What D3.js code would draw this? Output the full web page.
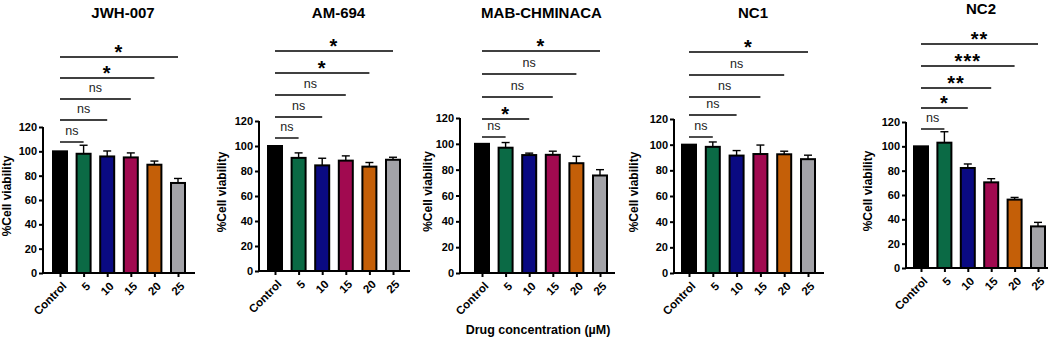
<!DOCTYPE html>
<html>
<head>
<meta charset="utf-8">
<script src="https://cdn.jsdelivr.net/npm/d3@7"></script>
<style>
  body { margin: 0; background: #fff; }
  svg { display: block; font-family: "Liberation Sans", Arial, sans-serif; }
</style>
</head>
<body>
<div id="vis"></div>
<script>
// data
const categories = ['Control', '5', '10', '15', '20', '25'];
const barColors = ['#000000', '#0b6a45', '#0a0a82', '#a10a50', '#c45f08', '#a3a3a8'];
const yTicks = [0, 20, 40, 60, 80, 100, 120];

const drugNames = ['JWH-007', 'AM-694', 'MAB-CHMINACA', 'NC1', 'NC2'];

const jwhMean = [100, 98, 95.8, 95, 89, 74];
const jwhErr  = [0, 7, 4.5, 3.7, 3, 3.7];
const jwhSig  = ['ns', 'ns', 'ns', '*', '*'];

const amMean = [100, 90.5, 84.5, 88.3, 83.5, 89];
const amErr  = [0, 4, 5.7, 3.8, 3.3, 2];
const amSig  = ['ns', 'ns', 'ns', '*', '*'];

const mabMean = [100, 97, 91.3, 91.5, 85, 75.5];
const mabErr  = [0, 4, 1.5, 2.8, 5.3, 4.5];
const mabSig  = ['ns', '*', 'ns', 'ns', '*'];

const nc1Mean = [100, 98.3, 91.5, 92.7, 92.5, 88.7];
const nc1Err  = [0, 3.8, 3.9, 7, 2.4, 3.1];
const nc1Sig  = ['ns', 'ns', 'ns', 'ns', '*'];

const nc2Mean = [100, 103, 82.2, 70.4, 56.2, 34.2];
const nc2Err  = [0, 9, 3.3, 3, 1.8, 3.3];
const nc2Sig  = ['ns', '*', '**', '***', '**'];

const means = [jwhMean, amMean, mabMean, nc1Mean, nc2Mean];
const errs = [jwhErr, amErr, mabErr, nc1Err, nc2Err];
const sigs = [jwhSig, amSig, mabSig, nc1Sig, nc2Sig];

// panel layout (pixels)
const layout = [
  {ax: 43,  x1: 60,  x2: 178,  xe: 195,  top: 127, bot: 273, lab: 36, ty: 18, br: [142, 120, 99, 78, 57]},
  {ax: 259, x1: 275, x2: 393,  xe: 410,  top: 121, bot: 271, lab: 37, ty: 18, br: [138, 117, 95, 73, 51]},
  {ax: 460, x1: 482, x2: 600,  xe: 615,  top: 118, bot: 273, lab: 32, ty: 18, br: [137, 119, 97, 74, 51]},
  {ax: 674, x1: 689, x2: 808,  xe: 824,  top: 119, bot: 273, lab: 40, ty: 18, br: [137, 115, 97, 75, 52]},
  {ax: 906, x1: 921, x2: 1038, xe: 1048, top: 122, bot: 268, lab: 38, ty: 14, br: [129, 108, 88, 66, 44]}
];

const width = 1059, height = 342;
const svg = d3.select('#vis').append('svg')
  .attr('width', width)
  .attr('height', height);

drugNames.forEach((name, p) => {
  const L = layout[p];
  const g = svg.append('g');

  const x = d3.scalePoint().domain(categories).range([L.x1, L.x2]);
  const y = d3.scaleLinear().domain([0, 120]).range([L.bot, L.top]);
  const barW = 14;

  const rows = categories.map((c, i) => ({c, v: means[p][i], e: errs[p][i], col: barColors[i]}));

  // error bars (upper only)
  const eb = g.selectAll('g.err').data(rows.filter(d => d.e > 0)).enter().append('g');
  eb.append('line')
    .attr('x1', d => x(d.c)).attr('x2', d => x(d.c))
    .attr('y1', d => y(d.v)).attr('y2', d => y(d.v + d.e))
    .attr('stroke', '#000').attr('stroke-width', 1.4);
  eb.append('line')
    .attr('x1', d => x(d.c) - 4).attr('x2', d => x(d.c) + 4)
    .attr('y1', d => y(d.v + d.e)).attr('y2', d => y(d.v + d.e))
    .attr('stroke', '#000').attr('stroke-width', 1.4);

  // bars
  g.selectAll('rect.bar').data(rows).enter().append('rect')
    .attr('class', 'bar')
    .attr('x', d => x(d.c) - barW / 2)
    .attr('y', d => y(d.v))
    .attr('width', barW)
    .attr('height', d => y(0) - y(d.v))
    .attr('fill', d => d.col)
    .attr('stroke', '#000')
    .attr('stroke-width', 2);

  // y axis
  const yAxis = g.append('g')
    .attr('transform', 'translate(' + L.ax + ',0)')
    .call(d3.axisLeft(y).tickValues(yTicks).tickSize(4).tickPadding(2));
  yAxis.select('.domain').attr('stroke-width', 2).attr('d', 'M0,' + L.bot + 'V' + L.top);
  yAxis.selectAll('.tick line').attr('stroke-width', 2);
  yAxis.selectAll('text').attr('font-size', 11).attr('font-weight', 'bold').attr('fill', '#000')
    .attr('font-family', '"Liberation Sans", Arial, sans-serif');

  // x axis
  const xAxis = g.append('g')
    .attr('transform', 'translate(0,' + L.bot + ')')
    .call(d3.axisBottom(x).tickSize(4).tickSizeOuter(0));
  xAxis.select('.domain').attr('stroke-width', 2).attr('d', 'M' + L.ax + ',0H' + L.xe);
  xAxis.selectAll('.tick line').attr('stroke-width', 2);
  xAxis.selectAll('text')
    .attr('font-size', 11.5).attr('font-weight', 'bold').attr('fill', '#000')
    .attr('font-family', '"Liberation Sans", Arial, sans-serif')
    .attr('text-anchor', 'end')
    .attr('dy', '0.35em')
    .attr('y', 0)
    .attr('transform', 'translate(4,11) rotate(-45)');

  // y label
  g.append('text')
    .attr('transform', 'translate(' + (L.ax - L.lab + 4) + ',' + ((L.top + L.bot) / 2 - 4) + ') rotate(-90)')
    .attr('text-anchor', 'middle')
    .attr('font-size', 12).attr('font-weight', 'bold')
    .text('%Cell viability');

  // title
  g.append('text')
    .attr('x', (L.ax + L.xe) / 2 + 4)
    .attr('y', L.ty)
    .attr('text-anchor', 'middle')
    .attr('font-size', 15).attr('font-weight', 'bold')
    .text(name);

  // significance brackets
  sigs[p].forEach((s, k) => {
    const xa = x(categories[0]), xb = x(categories[k + 1]);
    const yy = L.br[k];
    g.append('line')
      .attr('x1', xa).attr('x2', xb).attr('y1', yy).attr('y2', yy)
      .attr('stroke', '#000').attr('stroke-width', 1.4);
    const t = g.append('text')
      .attr('x', (xa + xb) / 2)
      .attr('text-anchor', 'middle')
      .text(s);
    if (s === 'ns') {
      t.attr('y', yy - 7).attr('font-size', 12.5).attr('fill', '#222');
    } else {
      t.attr('y', yy + 2).attr('font-size', 20).attr('font-weight', 'bold')
        .attr('letter-spacing', 1);
    }
  });
});

// shared x title
svg.append('text')
  .attr('x', 538)
  .attr('y', 334)
  .attr('text-anchor', 'middle')
  .attr('font-size', 12.5).attr('font-weight', 'bold')
  .text('Drug concentration (µM)');
</script>
</body>
</html>
